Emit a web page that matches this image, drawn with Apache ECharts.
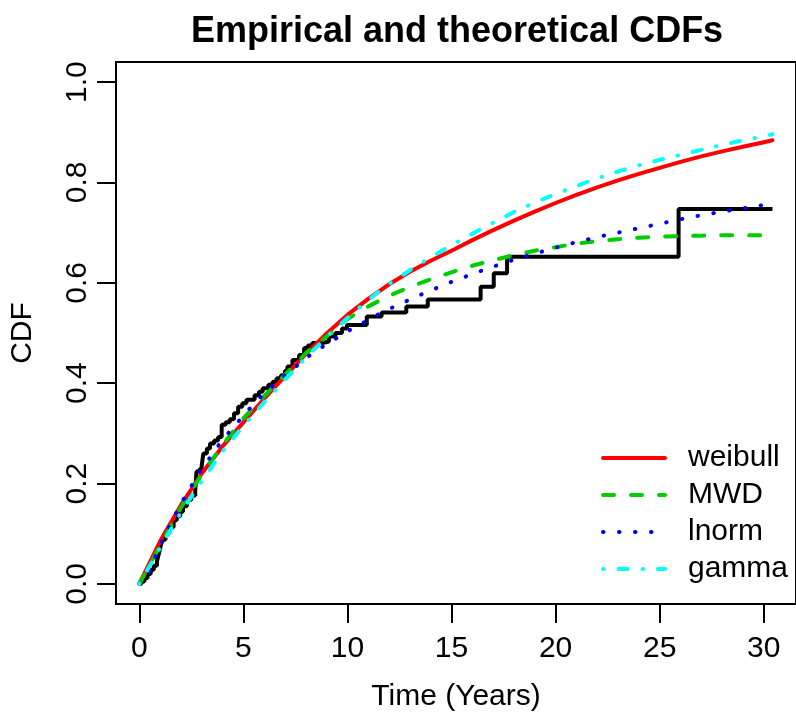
<!DOCTYPE html>
<html>
<head>
<meta charset="utf-8">
<title>Empirical and theoretical CDFs</title>
<script src="https://cdn.jsdelivr.net/npm/echarts@6/dist/echarts.min.js"></script>
<style>
  html, body { margin: 0; padding: 0; background: #fff; }
  #chart { width: 796px; height: 718px; }
</style>
</head>
<body>
<div id="chart"></div>
<script>
// tick labels
const xTicks = [0, 5, 10, 15, 20, 25, 30]
const yTicks = [0, 0.2, 0.4, 0.6, 0.8, 1.0]

// empirical CDF (step points: time, value after the jump)
const empirical = [
  [0, 0], [0.1, 0.005], [0.25, 0.012], [0.4, 0.02], [0.55, 0.028], [0.7, 0.036],
  [0.85, 0.045], [0.94, 0.06], [1.02, 0.074], [1.1, 0.088],
  [1.26, 0.101], [1.45, 0.113], [1.65, 0.127], [1.8, 0.135], [1.97, 0.144],
  [2.1, 0.155], [2.29, 0.167], [2.5, 0.176], [2.69, 0.186], [2.75, 0.224],
  [2.9, 0.229], [3.0, 0.236], [3.08, 0.26], [3.25, 0.27], [3.4, 0.28],
  [3.6, 0.286], [3.79, 0.293], [3.96, 0.317], [4.15, 0.322], [4.35, 0.328],
  [4.55, 0.34], [4.75, 0.353], [4.95, 0.36], [5.15, 0.367], [5.54, 0.376],
  [5.75, 0.383], [5.93, 0.39], [6.2, 0.397], [6.41, 0.403], [6.6, 0.41],
  [6.81, 0.416], [7.0, 0.425], [7.12, 0.433], [7.36, 0.446], [7.68, 0.456],
  [7.92, 0.47], [8.1, 0.475], [8.31, 0.48], [8.79, 0.483], [9.11, 0.493],
  [9.42, 0.5], [9.74, 0.509], [9.98, 0.516], [10.93, 0.533], [11.64, 0.541],
  [12.83, 0.553], [13.86, 0.567], [16.4, 0.592], [17.03, 0.619], [17.67, 0.652],
  [25.91, 0.747], [30.42, 0.747]
]

// fitted curves, read at whole years
const years = [0, 1, 2, 3, 4, 5, 6, 7, 8, 9, 10, 11, 12, 13, 14, 15, 16, 17, 18, 19, 20,
  21, 22, 23, 24, 25, 26, 27, 28, 29, 30, 30.42]
const weibull = [0, 0.085, 0.157, 0.22, 0.274, 0.322, 0.369, 0.414, 0.458, 0.499, 0.536,
  0.568, 0.597, 0.622, 0.644, 0.664, 0.685, 0.705, 0.724, 0.742, 0.759,
  0.775, 0.79, 0.804, 0.817, 0.829, 0.841, 0.852, 0.862, 0.871, 0.88, 0.884]
const mwd = [0, 0.076, 0.152, 0.218, 0.277, 0.33, 0.374, 0.417, 0.46, 0.493, 0.528,
  0.553, 0.574, 0.592, 0.607, 0.621, 0.634, 0.645, 0.655, 0.664, 0.671,
  0.678, 0.683, 0.687, 0.69, 0.692, 0.693, 0.694, 0.695, 0.695, 0.695, 0.695]
const gamma = [0, 0.072, 0.142, 0.205, 0.264, 0.315, 0.362, 0.407, 0.451, 0.492, 0.53,
  0.566, 0.598, 0.625, 0.651, 0.675, 0.698, 0.72, 0.741, 0.76, 0.777,
  0.793, 0.808, 0.822, 0.834, 0.845, 0.855, 0.865, 0.875, 0.884, 0.892, 0.896]

// lnorm
const lnormTime = [0, 0.47, 0.78, 1.1, 1.42, 1.78, 2.13, 2.53, 2.92, 3.35, 3.79, 4.27,
  4.75, 5.27, 5.78, 6.33, 6.89, 7.49, 8.07, 8.71, 9.34, 9.98, 10.66, 11.33,
  11.96, 13.39, 14.76, 16.16, 17.62, 19.06, 20.52, 21.98, 23.45, 24.93,
  26.38, 27.89, 29.4, 30.42]
const lnorm = [0, 0.024, 0.055, 0.084, 0.113, 0.142, 0.169, 0.197, 0.224, 0.249, 0.275,
  0.3, 0.323, 0.348, 0.37, 0.392, 0.412, 0.432, 0.452, 0.47, 0.486, 0.503,
  0.518, 0.534, 0.547, 0.574, 0.598, 0.62, 0.641, 0.659, 0.676, 0.691,
  0.704, 0.717, 0.73, 0.741, 0.751, 0.758]

const font = 'Liberation Sans, Arial, Helvetica, sans-serif'

function pairs(xs, ys) {
  return xs.map((x, i) => [x, ys[i]])
}

function curve(name, xs, ys, color, dash) {
  return {
    name: name,
    type: 'line',
    data: pairs(xs, ys),
    symbol: 'none',
    silent: true,
    lineStyle: { color: color, width: 4, type: dash, cap: 'round', join: 'round' },
    itemStyle: { color: color }
  }
}

const chart = echarts.init(document.getElementById('chart'), null, { renderer: 'canvas' })
chart.setOption({
  animation: false,
  backgroundColor: '#ffffff',
  title: {
    text: 'Empirical and theoretical CDFs',
    left: 186,
    top: 9,
    textStyle: { fontFamily: font, fontSize: 36, fontWeight: 'bold', color: '#000' }
  },
  grid: {
    left: 115,
    top: 62,
    width: 687,
    bottom: 114,
    show: true,
    borderColor: '#000',
    borderWidth: 2,
    backgroundColor: 'transparent'
  },
  legend: {
    orient: 'vertical',
    left: 596,
    top: 438,
    data: ['weibull', 'MWD', 'lnorm', 'gamma'],
    itemWidth: 62,
    itemHeight: 14,
    itemGap: 7,
    itemStyle: { opacity: 0 },
    lineStyle: { width: 4, cap: 'round' },
    formatter: '{n|{name}}',
    textStyle: {
      fontFamily: font, fontSize: 30, color: '#000',
      rich: { n: { fontFamily: font, fontSize: 30, color: '#000', lineHeight: 30, padding: [0, 0, 0, 18] } }
    }
  },
  xAxis: {
    type: 'value',
    min: -1.117,
    max: 31.55,
    name: 'Time (Years)',
    nameLocation: 'middle',
    nameGap: 78,
    nameTextStyle: { fontFamily: font, fontSize: 30, color: '#000' },
    axisLine: { show: false, onZero: false },
    axisTick: { show: true, length: 19, lineStyle: { color: '#000', width: 2 }, customValues: xTicks },
    axisLabel: { fontFamily: font, fontSize: 30, color: '#000', margin: 30, customValues: xTicks },
    splitLine: { show: false }
  },
  yAxis: {
    type: 'value',
    min: -0.04,
    max: 1.04,
    name: 'CDF',
    nameLocation: 'middle',
    nameRotate: 90,
    nameGap: 78,
    nameTextStyle: { fontFamily: font, fontSize: 30, color: '#000' },
    axisLine: { show: false, onZero: false },
    axisTick: { show: true, length: 19, lineStyle: { color: '#000', width: 2 }, customValues: yTicks },
    axisLabel: {
      fontFamily: font, fontSize: 30, color: '#000', margin: 23, rotate: 90,
      customValues: yTicks,
      formatter: v => v.toFixed(1)
    },
    splitLine: { show: false }
  },
  series: [
    {
      name: 'empirical',
      type: 'line',
      step: 'end',
      data: empirical,
      symbol: 'none',
      silent: true,
      lineStyle: { color: '#000', width: 4 }
    },
    curve('weibull', years, weibull, '#ff0000', 'solid'),
    curve('MWD', years, mwd, '#00cd00', [11, 17]),
    curve('lnorm', lnormTime, lnorm, '#0000ff', [0.5, 15.5]),
    curve('gamma', years, gamma, '#00ffff', [0.5, 15, 9, 15])
  ]
})
</script>
</body>
</html>
